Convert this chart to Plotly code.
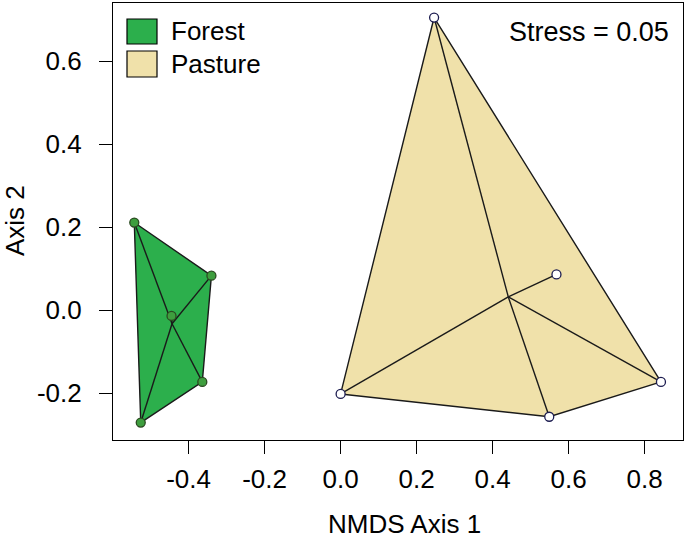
import plotly.graph_objects as go

# ---- data ----
forest_x = [-0.543, -0.340, -0.445, -0.364, -0.526]
forest_y = [0.211, 0.083, -0.014, -0.173, -0.271]
pasture_x = [0.246, 0.568, 0.843, 0.549, 0.000]
pasture_y = [0.705, 0.086, -0.173, -0.257, -0.202]

group_names = ["Forest", "Pasture"]
x_tick_vals = [-0.4, -0.2, 0.0, 0.2, 0.4, 0.6, 0.8]
x_tick_labels = ["-0.4", "-0.2", "0.0", "0.2", "0.4", "0.6", "0.8"]
y_tick_vals = [-0.2, 0.0, 0.2, 0.4, 0.6]
y_tick_labels = ["-0.2", "0.0", "0.2", "0.4", "0.6"]
stress_text = "Stress = 0.05"

# ---- style ----
FOREST_FILL = "#2CAF4C"
PASTURE_FILL = "#F0E1AA"
LINE = "#1a1a1a"
FONT = "Liberation Sans, Arial, sans-serif"


def convex_hull(xs, ys):
    pts = sorted(set(zip(xs, ys)))

    def cross(o, a, b):
        return (a[0] - o[0]) * (b[1] - o[1]) - (a[1] - o[1]) * (b[0] - o[0])

    lower, upper = [], []
    for p in pts:
        while len(lower) >= 2 and cross(lower[-2], lower[-1], p) <= 0:
            lower.pop()
        lower.append(p)
    for p in reversed(pts):
        while len(upper) >= 2 and cross(upper[-2], upper[-1], p) <= 0:
            upper.pop()
        upper.append(p)
    hull = lower[:-1] + upper[:-1]
    hull.append(hull[0])
    return [p[0] for p in hull], [p[1] for p in hull]


def spider(xs, ys):
    cx = sum(xs) / len(xs)
    cy = sum(ys) / len(ys)
    sx, sy = [], []
    for x, y in zip(xs, ys):
        sx += [cx, x, None]
        sy += [cy, y, None]
    return sx, sy


fig = go.Figure()

for xs, ys, fill, mfill, mline in [
    (forest_x, forest_y, FOREST_FILL, "#3E9E3E", "#2A4A20"),
    (pasture_x, pasture_y, PASTURE_FILL, "white", "#1C1C50"),
]:
    hx, hy = convex_hull(xs, ys)
    fig.add_trace(go.Scatter(x=hx, y=hy, mode="lines", fill="toself",
                             fillcolor=fill, line=dict(color=LINE, width=1.4),
                             hoverinfo="skip", showlegend=False))
    sx, sy = spider(xs, ys)
    fig.add_trace(go.Scatter(x=sx, y=sy, mode="lines",
                             line=dict(color=LINE, width=1.4),
                             hoverinfo="skip", showlegend=False))
    fig.add_trace(go.Scatter(x=xs, y=ys, mode="markers",
                             marker=dict(size=9, color=mfill,
                                         line=dict(color=mline, width=1.3)),
                             showlegend=False))

# plot area in pixels: x 113..683, y 3..440
L, R, T, B = 113, 683, 3, 440
W, H = 685, 540


def px(x):
    return (x - L) / (R - L)


def py(y):
    return (B - y) / (B - T)


axis_common = dict(showgrid=False, zeroline=False, showline=True, mirror=True,
                   linecolor="black", linewidth=1.2, ticks="outside",
                   ticklen=13, tickwidth=1.2, tickcolor="black",
                   tickfont=dict(family=FONT, size=26, color="black"))

fig.update_xaxes(range=[-0.599, 0.901], tickmode="array", tickvals=x_tick_vals,
                 ticktext=x_tick_labels, ticklabelstandoff=3, **axis_common)
fig.update_yaxes(range=[-0.313, 0.740], tickmode="array", tickvals=y_tick_vals,
                 ticktext=y_tick_labels, ticklabelstandoff=12, **axis_common)

shapes = []
annotations = []
legend_rows = [(19, 44, 31, FOREST_FILL), (51, 77, 64, PASTURE_FILL)]
for name, (y0, y1, yc, col) in zip(group_names, legend_rows):
    shapes.append(dict(type="rect", xref="paper", yref="paper",
                       x0=px(127), x1=px(157), y0=py(y1), y1=py(y0),
                       fillcolor=col, line=dict(color="black", width=1.2)))
    annotations.append(dict(text=name, xref="paper", yref="paper",
                            x=px(169), y=py(yc), xanchor="left", yanchor="middle",
                            showarrow=False,
                            font=dict(family=FONT, size=26, color="black")))

annotations.append(dict(text=stress_text, xref="paper", yref="paper",
                        x=px(671), y=py(32), xanchor="right", yanchor="middle",
                        showarrow=False,
                        font=dict(family=FONT, size=27, color="black")))
annotations.append(dict(text="NMDS Axis 1", xref="paper", yref="paper",
                        x=px(404), y=py(524), xanchor="center", yanchor="middle",
                        showarrow=False,
                        font=dict(family=FONT, size=26, color="black")))
annotations.append(dict(text="Axis 2", xref="paper", yref="paper",
                        x=px(15), y=py(221), xanchor="center", yanchor="middle",
                        textangle=-90, showarrow=False,
                        font=dict(family=FONT, size=26, color="black")))

fig.update_layout(width=W, height=H,
                  margin=dict(l=L, r=W - R, t=T, b=H - B, pad=0),
                  paper_bgcolor="white", plot_bgcolor="white",
                  shapes=shapes, annotations=annotations, showlegend=False)

fig.write_html("out.html", config={"displayModeBar": False},
               post_script="document.body.style.margin='0';"
                           "document.body.style.overflow='hidden';")
